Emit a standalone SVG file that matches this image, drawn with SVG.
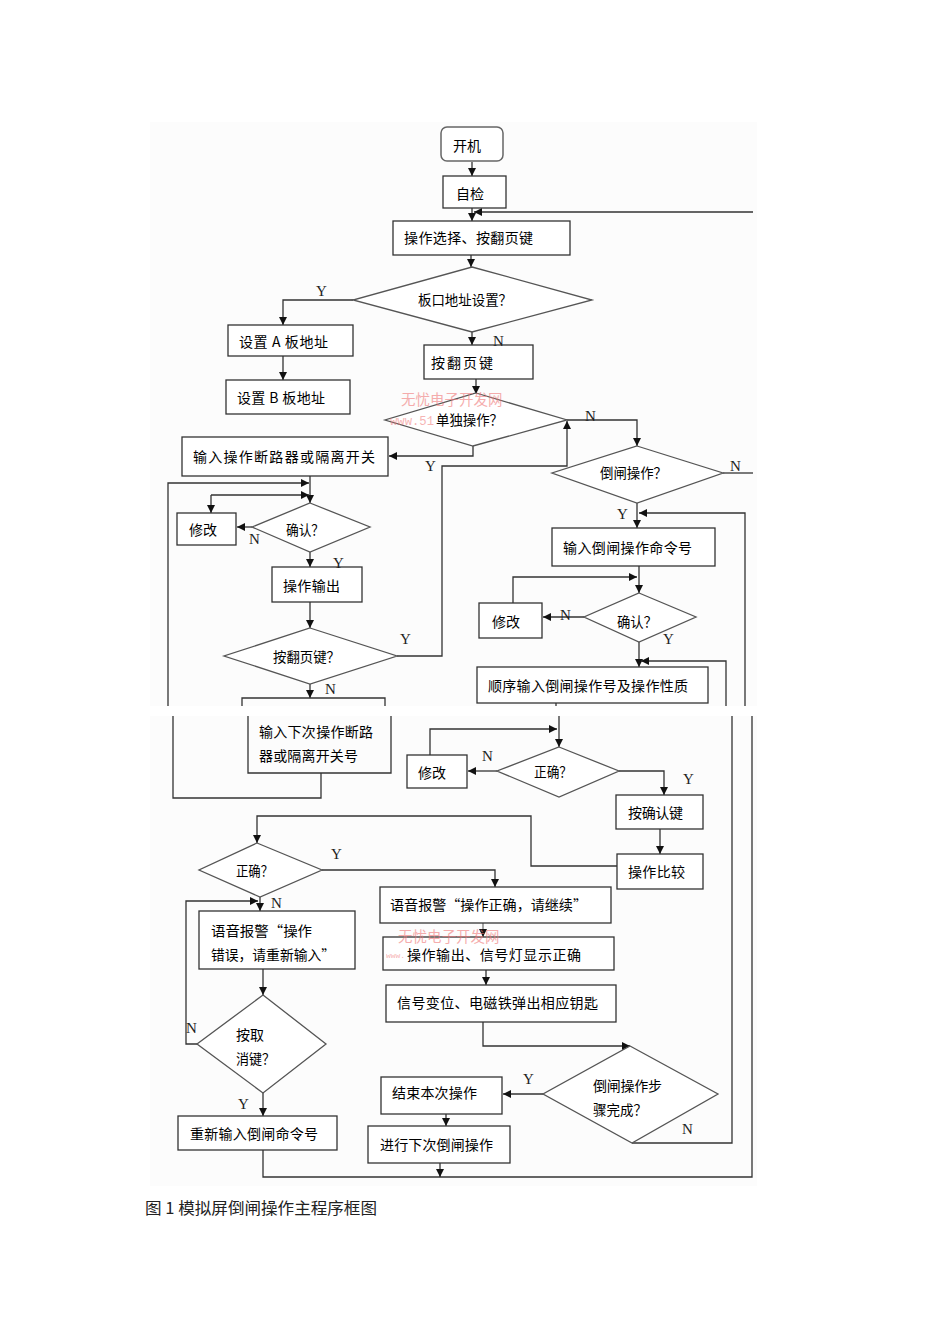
<svg xmlns="http://www.w3.org/2000/svg" width="950" height="1344" viewBox="0 0 950 1344">
<style>
.bx{fill:#fff;stroke:#333;stroke-width:1.3}
.dm{fill:#fff;stroke:#555;stroke-width:1.3}
.ln{fill:none;stroke:#333;stroke-width:1.3}
.t{font-family:"Noto Sans CJK SC","Noto Sans",sans-serif;font-size:14px;fill:#000}
.yn{font-family:"Liberation Serif",serif;font-size:15px;fill:#222}
.wm{font-family:"Noto Sans CJK SC",sans-serif;font-size:14.5px;fill:#f07878;opacity:0.6}
.wu{font-family:"Liberation Mono",monospace;fill:#f07878;opacity:0.55}
.cap{font-family:"Noto Sans CJK SC",serif;font-size:16px;fill:#222}
</style>
<defs>
<marker id="a" markerWidth="8" markerHeight="8" refX="8" refY="4" orient="auto" markerUnits="userSpaceOnUse"><path d="M0,0 L8,4 L0,8 z" fill="#111"/></marker>
</defs>
<rect x="0" y="0" width="950" height="1344" fill="#fff"/>
<rect x="150" y="122" width="607" height="584" fill="#fcfcfc"/>
<rect x="150" y="716" width="607" height="470" fill="#fcfcfc"/>

<g id="connectors">
<path class="ln" d="M472,162 V176" marker-end="url(#a)"/>
<path class="ln" d="M472,208 V221" marker-end="url(#a)"/>
<path class="ln" d="M753,212 H474" marker-end="url(#a)"/>
<path class="ln" d="M471,255 V267" marker-end="url(#a)"/>
<path class="ln" d="M353,300 H283 V325" marker-end="url(#a)"/>
<path class="ln" d="M283,356 V380" marker-end="url(#a)"/>
<path class="ln" d="M472,332 V345" marker-end="url(#a)"/>
<path class="ln" d="M476,379 V394" marker-end="url(#a)"/>
<path class="ln" d="M473,446 V456 H389" marker-end="url(#a)"/>
<path class="ln" d="M567,420 H637 V446" marker-end="url(#a)"/>
<path class="ln" d="M397,656 H442 V466 H567 V421" marker-end="url(#a)"/>
<path class="ln" d="M723,473 H753"/>
<path class="ln" d="M637,503 V528" marker-end="url(#a)"/>
<path class="ln" d="M745,706 V513 H639" marker-end="url(#a)"/>
<path class="ln" d="M639,566 V593" marker-end="url(#a)"/>
<path class="ln" d="M513,603 V577 H637" marker-end="url(#a)"/>
<path class="ln" d="M584,617 H543" marker-end="url(#a)"/>
<path class="ln" d="M639,642 V667" marker-end="url(#a)"/>
<path class="ln" d="M726,706 V661 H641" marker-end="url(#a)"/>
<path class="ln" d="M556,703 V706"/>
<path class="ln" d="M310,476 V503" marker-end="url(#a)"/>
<path class="ln" d="M168,706 V483 H309" marker-end="url(#a)"/>
<path class="ln" d="M211,495 H309" marker-end="url(#a)"/>
<path class="ln" d="M211,495 V513" marker-end="url(#a)"/>
<path class="ln" d="M252,527 H237" marker-end="url(#a)"/>
<path class="ln" d="M310,552 V567" marker-end="url(#a)"/>
<path class="ln" d="M310,602 V628" marker-end="url(#a)"/>
<path class="ln" d="M310,684 V698" marker-end="url(#a)"/>
<path class="ln" d="M321,773 V798 H173 V716"/>
<path class="ln" d="M559,716 V747" marker-end="url(#a)"/>
<path class="ln" d="M430,755 V729 H557" marker-end="url(#a)"/>
<path class="ln" d="M497,771 H468" marker-end="url(#a)"/>
<path class="ln" d="M619,771 H664 V795" marker-end="url(#a)"/>
<path class="ln" d="M660,829 V854" marker-end="url(#a)"/>
<path class="ln" d="M617,866 H531 V816 H257 V843" marker-end="url(#a)"/>
<path class="ln" d="M322,870 H495 V887" marker-end="url(#a)"/>
<path class="ln" d="M260,897 V911" marker-end="url(#a)"/>
<path class="ln" d="M197,1044 H186 V901 H258" marker-end="url(#a)"/>
<path class="ln" d="M263,969 V995" marker-end="url(#a)"/>
<path class="ln" d="M263,1093 V1116" marker-end="url(#a)"/>
<path class="ln" d="M263,1150 V1177 H752 V716"/>
<path class="ln" d="M632,1143 H732 V716"/>
<path class="ln" d="M483,923 V937" marker-end="url(#a)" style="stroke:#777"/>
<path class="ln" d="M486,970 V985" marker-end="url(#a)"/>
<path class="ln" d="M483,1022 V1046 H630" marker-end="url(#a)"/>
<path class="ln" d="M543,1094 H503" marker-end="url(#a)"/>
<path class="ln" d="M446,1114 V1126" marker-end="url(#a)"/>
<path class="ln" d="M440,1163 V1177" marker-end="url(#a)"/>
</g>

<g id="n-kaiji"><rect x="441" y="127" width="62" height="34" rx="6" fill="#fff" stroke="#666" stroke-width="1.5"/><text class="t" x="453" y="151">开机</text></g>
<g id="n-zijian"><rect class="bx" x="443" y="176" width="63" height="32"/><text class="t" x="456" y="199">自检</text></g>
<g id="n-select"><rect class="bx" x="393" y="221" width="177" height="34"/><text class="t" x="404" y="243" textLength="129" lengthAdjust="spacing">操作选择、按翻页键</text></g>
<g id="n-bankou"><polygon class="dm" points="472,267 592,300 472,332 353,300"/><text class="t" x="418" y="305" textLength="94" lengthAdjust="spacingAndGlyphs">板口地址设置？</text></g>
<g id="n-setA"><rect class="bx" x="228" y="325" width="125" height="31"/><text class="t" x="239" y="347" textLength="89" lengthAdjust="spacing">设置 A 板地址</text></g>
<g id="n-setB"><rect class="bx" x="226" y="380" width="124" height="34"/><text class="t" x="237" y="403" textLength="88" lengthAdjust="spacing">设置 B 板地址</text></g>
<g id="n-page1"><rect class="bx" x="424" y="345" width="109" height="34"/><text class="t" x="431" y="368" textLength="62" lengthAdjust="spacing">按翻页键</text></g>
<g id="n-single"><polygon class="dm" points="476,393 567,420 473,446 385,420"/><text class="t" x="436" y="425" textLength="67" lengthAdjust="spacingAndGlyphs">单独操作？</text></g>
<g id="n-inputbrk"><rect class="bx" x="182" y="437" width="206" height="39"/><text class="t" x="193" y="462" textLength="182" lengthAdjust="spacing">输入操作断路器或隔离开关</text></g>
<g id="n-daozha"><polygon class="dm" points="637,446 723,473 637,503 552,473"/><text class="t" x="600" y="478" textLength="67" lengthAdjust="spacingAndGlyphs">倒闸操作？</text></g>
<g id="n-modL"><rect class="bx" x="177" y="513" width="59" height="32"/><text class="t" x="189" y="535">修改</text></g>
<g id="n-confL"><polygon class="dm" points="310,503 370,527 310,552 252,527"/><text class="t" x="286" y="535" textLength="38" lengthAdjust="spacingAndGlyphs">确认？</text></g>
<g id="n-outL"><rect class="bx" x="272" y="567" width="90" height="35"/><text class="t" x="283" y="591" textLength="57" lengthAdjust="spacing">操作输出</text></g>
<g id="n-pageQ"><polygon class="dm" points="310,628 397,656 310,684 224,656"/><text class="t" x="273" y="662" textLength="67" lengthAdjust="spacingAndGlyphs">按翻页键？</text></g>
<g id="n-next"><path class="ln" d="M242,706 V698 H385 V706"/><path class="ln" d="M248,716 V773 H391 V716"/><text class="t" x="259" y="737" textLength="114" lengthAdjust="spacing">输入下次操作断路</text><text class="t" x="259" y="761" textLength="99" lengthAdjust="spacing">器或隔离开关号</text></g>
<g id="n-inputcmd"><rect class="bx" x="552" y="528" width="163" height="38"/><text class="t" x="563" y="553" textLength="129" lengthAdjust="spacing">输入倒闸操作命令号</text></g>
<g id="n-modR"><rect class="bx" x="479" y="603" width="63" height="35"/><text class="t" x="492" y="627">修改</text></g>
<g id="n-confR"><polygon class="dm" points="639,593 696,617 639,642 584,617"/><text class="t" x="617" y="627" textLength="40" lengthAdjust="spacingAndGlyphs">确认？</text></g>
<g id="n-seq"><rect class="bx" x="477" y="667" width="231" height="36"/><text class="t" x="488" y="691" textLength="200" lengthAdjust="spacing">顺序输入倒闸操作号及操作性质</text></g>
<g id="n-modLow"><rect class="bx" x="407" y="755" width="60" height="33"/><text class="t" x="418" y="778">修改</text></g>
<g id="n-okR"><polygon class="dm" points="559,747 619,771 559,797 497,771"/><text class="t" x="534" y="777" textLength="38" lengthAdjust="spacingAndGlyphs">正确？</text></g>
<g id="n-confkey"><rect class="bx" x="616" y="795" width="87" height="34"/><text class="t" x="628" y="818" textLength="55" lengthAdjust="spacing">按确认键</text></g>
<g id="n-compare"><rect class="bx" x="617" y="854" width="86" height="35"/><text class="t" x="628" y="877" textLength="57" lengthAdjust="spacing">操作比较</text></g>
<g id="n-okL"><polygon class="dm" points="257,843 322,870 260,897 199,870"/><text class="t" x="236" y="876" textLength="37" lengthAdjust="spacingAndGlyphs">正确？</text></g>
<g id="n-voiceOK"><rect class="bx" x="380" y="887" width="231" height="36"/><text class="t" x="390" y="910" textLength="197" lengthAdjust="spacingAndGlyphs">语音报警“操作正确，请继续”</text></g>
<g id="n-output"><rect class="bx" x="383" y="937" width="231" height="33"/><text class="t" x="407" y="960" textLength="174" lengthAdjust="spacing">操作输出、信号灯显示正确</text></g>
<g id="n-signal"><rect class="bx" x="386" y="985" width="230" height="37"/><text class="t" x="397" y="1008" textLength="201" lengthAdjust="spacing">信号变位、电磁铁弹出相应钥匙</text></g>
<g id="n-voiceErr"><rect class="bx" x="199" y="911" width="156" height="58"/><text class="t" x="211" y="936" textLength="101" lengthAdjust="spacingAndGlyphs">语音报警“操作</text><text class="t" x="211" y="960" textLength="124" lengthAdjust="spacingAndGlyphs">错误，请重新输入”</text></g>
<g id="n-cancel"><polygon class="dm" points="263,995 326,1044 263,1093 197,1044"/><text class="t" x="236" y="1040">按取</text><text class="t" x="236" y="1064" textLength="39" lengthAdjust="spacingAndGlyphs">消键？</text></g>
<g id="n-reinput"><rect class="bx" x="178" y="1116" width="159" height="34"/><text class="t" x="190" y="1139" textLength="128" lengthAdjust="spacing">重新输入倒闸命令号</text></g>
<g id="n-stepdone"><polygon class="dm" points="630,1046 718,1094 632,1143 543,1094"/><text class="t" x="593" y="1091" textLength="69" lengthAdjust="spacing">倒闸操作步</text><text class="t" x="593" y="1115" textLength="54" lengthAdjust="spacingAndGlyphs">骤完成？</text></g>
<g id="n-end"><rect class="bx" x="381" y="1077" width="121" height="37"/><text class="t" x="392" y="1098" textLength="85" lengthAdjust="spacing">结束本次操作</text></g>
<g id="n-nextop"><rect class="bx" x="368" y="1126" width="142" height="37"/><text class="t" x="380" y="1150" textLength="113" lengthAdjust="spacing">进行下次倒闸操作</text></g>

<g id="labels">
<text class="yn" x="316" y="296">Y</text>
<text class="yn" x="493" y="346">N</text>
<text class="yn" x="585" y="421">N</text>
<text class="yn" x="425" y="471">Y</text>
<text class="yn" x="730" y="471">N</text>
<text class="yn" x="617" y="519">Y</text>
<text class="yn" x="249" y="544">N</text>
<text class="yn" x="333" y="568">Y</text>
<text class="yn" x="400" y="644">Y</text>
<text class="yn" x="325" y="694">N</text>
<text class="yn" x="560" y="620">N</text>
<text class="yn" x="663" y="644">Y</text>
<text class="yn" x="482" y="761">N</text>
<text class="yn" x="683" y="784">Y</text>
<text class="yn" x="331" y="859">Y</text>
<text class="yn" x="271" y="908">N</text>
<text class="yn" x="186" y="1033">N</text>
<text class="yn" x="238" y="1109">Y</text>
<text class="yn" x="523" y="1084">Y</text>
<text class="yn" x="682" y="1134">N</text>
</g>

<g id="watermarks">
<text class="wm" x="401" y="405">无忧电子开发网</text>
<text class="wu" x="390" y="425" font-size="12" textLength="44" lengthAdjust="spacingAndGlyphs">www.51</text>
<text class="wm" x="398" y="942">无忧电子开发网</text>
<text class="wu" x="386" y="958" font-size="8" textLength="19" lengthAdjust="spacingAndGlyphs">www.</text>
</g>

<text class="cap" x="145" y="1214" textLength="232" lengthAdjust="spacingAndGlyphs">图 1 模拟屏倒闸操作主程序框图</text>
</svg>
